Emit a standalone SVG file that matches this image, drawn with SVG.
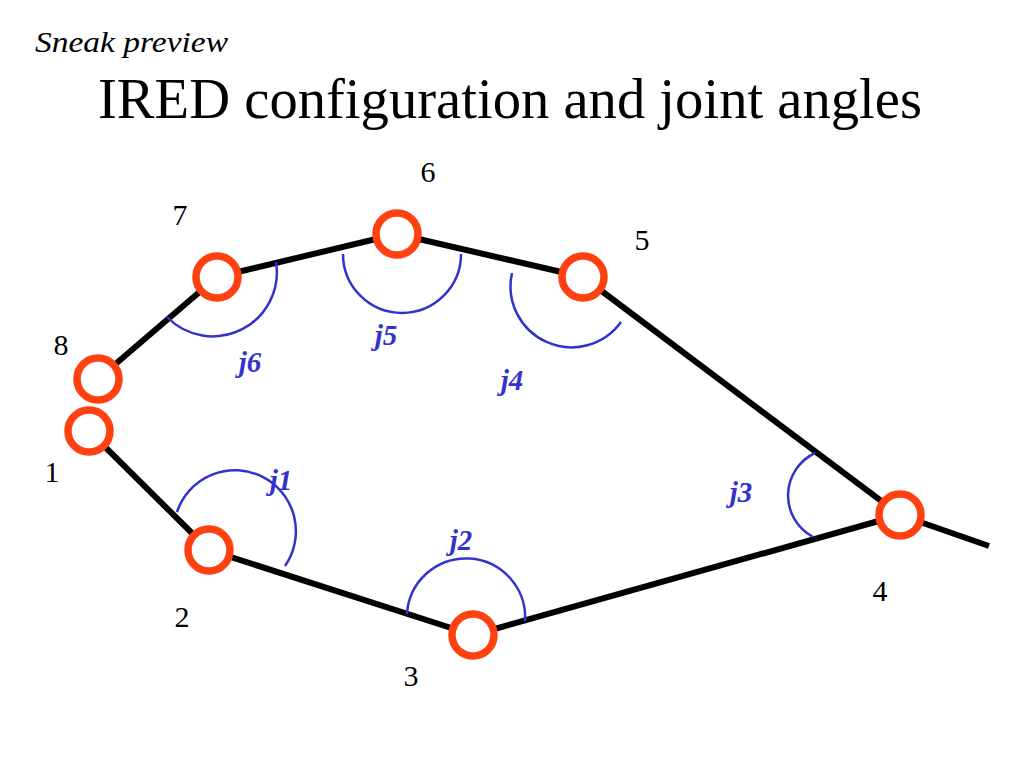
<svg xmlns="http://www.w3.org/2000/svg" width="1024" height="768" viewBox="0 0 1024 768">
<style>
.bg{fill:#ffffff}
.seg{stroke:#000000;stroke-width:6;stroke-linecap:butt;fill:none}
.arc{stroke:#3333cc;stroke-width:2.5;fill:none}
.ired{fill:#ffffff;stroke:#ff4010;stroke-width:7.5}
.num{font-family:'Liberation Serif','Times New Roman',serif;font-size:30px;fill:#000000;text-anchor:middle}
.jl{font-family:'Liberation Serif','Times New Roman',serif;font-size:29px;font-style:italic;font-weight:bold;fill:#3333cc;text-anchor:middle}
.sub{font-family:'Liberation Serif','Times New Roman',serif;font-size:29px;font-style:italic;fill:#000000}
.title{font-family:'Liberation Serif','Times New Roman',serif;font-size:57px;fill:#000000}
</style>
<rect class="bg" x="0" y="0" width="1024" height="768"/>
<text class="sub" x="35" y="52" textLength="193" lengthAdjust="spacingAndGlyphs">Sneak preview</text>
<text class="title" x="98" y="118" textLength="824" lengthAdjust="spacingAndGlyphs">IRED configuration and joint angles</text>
<g id="connectors">
<line class="seg" x1="98" y1="379" x2="217" y2="277"/>
<line class="seg" x1="217" y1="277" x2="397" y2="234"/>
<line class="seg" x1="397" y1="234" x2="583" y2="277"/>
<line class="seg" x1="583" y1="277" x2="900" y2="515"/>
<line class="seg" x1="900" y1="515" x2="989" y2="546"/>
<line class="seg" x1="900" y1="515" x2="473" y2="635"/>
<line class="seg" x1="473" y1="635" x2="209" y2="550"/>
<line class="seg" x1="209" y1="550" x2="89" y2="431"/>
</g>
<g id="angles">
<g id="j1"><path class="arc" d="M 177 512 A 61 61 0 1 1 285 566"/><text class="jl" x="281" y="490">j1</text></g>
<g id="j2"><path class="arc" d="M 407 614 A 59 59 0 0 1 525 621"/><text class="jl" x="461" y="550">j2</text></g>
<g id="j3"><path class="arc" d="M 815 453 A 47 47 0 0 0 813 537"/><text class="jl" x="741" y="502">j3</text></g>
<g id="j4"><path class="arc" d="M 512 273 A 61 61 0 0 0 621 322"/><text class="jl" x="512" y="390">j4</text></g>
<g id="j5"><path class="arc" d="M 343 254 A 59 59 0 0 0 461 254"/><text class="jl" x="386" y="345">j5</text></g>
<g id="j6"><path class="arc" d="M 167 317 A 64 64 0 0 0 276 262"/><text class="jl" x="250" y="372">j6</text></g>
</g>
<g id="node8"><circle class="ired" cx="98" cy="379" r="21"/><text class="num" x="61" y="355">8</text></g>
<g id="node1"><circle class="ired" cx="89" cy="431" r="21"/><text class="num" x="52" y="482">1</text></g>
<g id="node2"><circle class="ired" cx="209" cy="550" r="21"/><text class="num" x="182" y="627">2</text></g>
<g id="node3"><circle class="ired" cx="473" cy="635" r="21"/><text class="num" x="411" y="686">3</text></g>
<g id="node4"><circle class="ired" cx="900" cy="515" r="21"/><text class="num" x="880" y="601">4</text></g>
<g id="node5"><circle class="ired" cx="583" cy="277" r="21"/><text class="num" x="642" y="250">5</text></g>
<g id="node6"><circle class="ired" cx="397" cy="234" r="21"/><text class="num" x="428" y="182">6</text></g>
<g id="node7"><circle class="ired" cx="217" cy="277" r="21"/><text class="num" x="180" y="225">7</text></g>
</svg>
